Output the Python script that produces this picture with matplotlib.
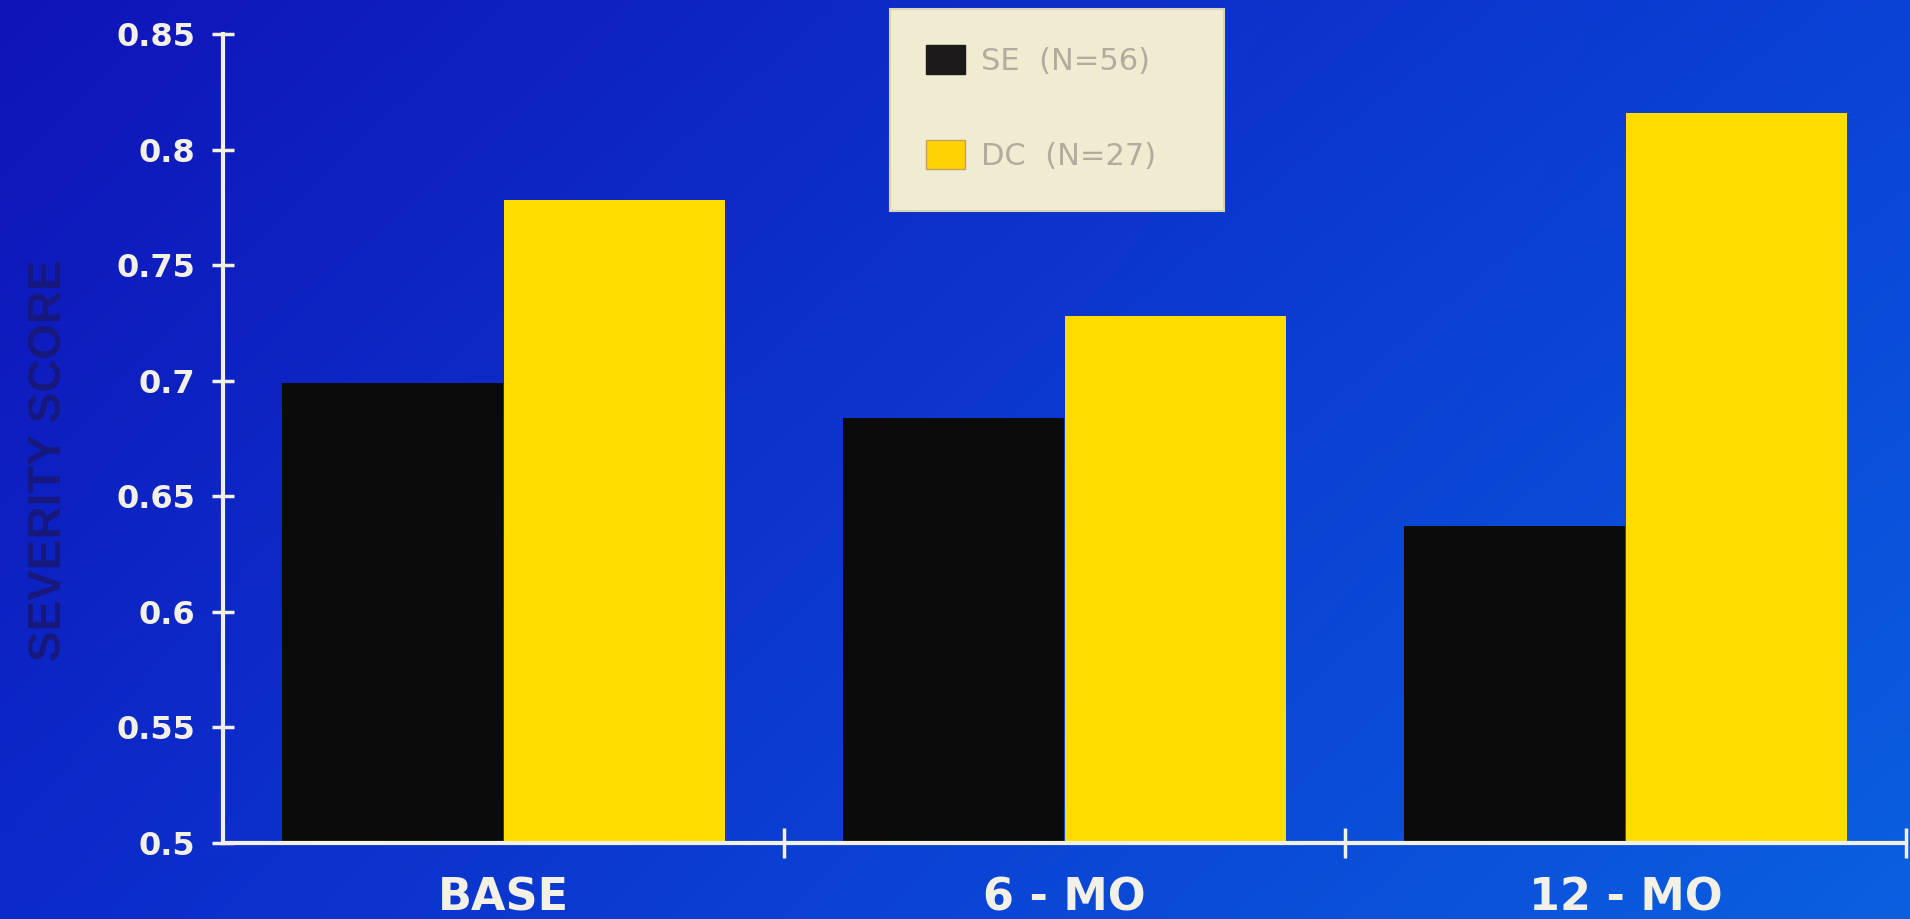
import numpy as np
import matplotlib
matplotlib.use('Agg')
import matplotlib.pyplot as plt
from matplotlib.patches import Rectangle, Patch

# severity scores per visit
visits = ['BASE', '6 - MO', '12 - MO']
se_scores = [0.699, 0.684, 0.637]
dc_scores = [0.778, 0.728, 0.816]
se_label = 'SE  (N=56)'
dc_label = 'DC  (N=27)'
yticks = [0.5, 0.55, 0.6, 0.65, 0.7, 0.75, 0.8, 0.85]
ytick_labels = ['0.5', '0.55', '0.6', '0.65', '0.7', '0.75', '0.8', '0.85']

W, H = 1910, 919
fig = plt.figure(figsize=(W / 100, H / 100), dpi=100)

# blue slide background, a little darker at the top left
bg = fig.add_axes([0, 0, 1, 1], zorder=-10)
tl = np.array([16, 20, 184]) / 255
tr = np.array([10, 66, 214]) / 255
bl = np.array([12, 42, 202]) / 255
br = np.array([10, 96, 224]) / 255
u = np.linspace(0, 1, 200)[None, :, None]
v = np.linspace(0, 1, 100)[:, None, None]
grad = (1 - v) * ((1 - u) * tl + u * tr) + v * ((1 - u) * bl + u * br)
bg.imshow(grad, aspect='auto', extent=[0, 1, 0, 1], interpolation='bilinear')
bg.set_axis_off()

fg = '#f3f0e6'
ax = fig.add_axes([223 / W, 76 / H, 1683 / W, 809 / H])
ax.patch.set_alpha(0)

x = np.arange(len(visits))
w = 0.395
ax.bar(x - 0.198, np.array(se_scores) - 0.5, w, bottom=0.5, color='#0b0b0c', zorder=2)
ax.bar(x + 0.198, np.array(dc_scores) - 0.5, w, bottom=0.5, color='#ffdc00', zorder=2)

ax.set_xlim(-0.5, 2.5)
ax.set_ylim(0.5, 0.85)
for s in ['top', 'right']:
    ax.spines[s].set_visible(False)
for s in ['left', 'bottom']:
    ax.spines[s].set_color(fg)
    ax.spines[s].set_linewidth(3)

ax.set_yticks(yticks)
ax.set_yticklabels(ytick_labels)
ax.tick_params(axis='y', direction='inout', length=16, width=2.5, color=fg,
               labelcolor=fg, labelsize=23, pad=12)
for t in ax.get_yticklabels():
    t.set_fontweight('bold')

ax.set_xticks(x)
ax.set_xticklabels(visits)
ax.set_xticks([0.5, 1.5, 2.5], minor=True)
ax.tick_params(axis='x', which='major', length=0, labelcolor=fg, labelsize=32, pad=24)
ax.tick_params(axis='x', which='minor', direction='inout', length=22, width=2.5, color=fg)
for t in ax.get_xticklabels():
    t.set_fontweight('bold')

fig.text(49 / W, 1 - 460 / H, 'SEVERITY SCORE', rotation=90, ha='center', va='center',
         fontsize=33, color='#18187e', family='Liberation Sans', fontweight='bold')

# legend card
fig.patches.append(Rectangle((890 / W, 1 - 211 / H), 334 / W, 202 / H,
                             transform=fig.transFigure, facecolor='#efecd2',
                             edgecolor='#d8d4b8', linewidth=1.5, zorder=5))
handles = [Patch(facecolor='#1c1a1a', edgecolor='#1c1a1a'),
           Patch(facecolor='#ffd200', edgecolor='#c9a060')]
leg = fig.legend(handles, [se_label, dc_label], loc='upper left',
                 bbox_to_anchor=(895 / W, 1 - 14 / H), frameon=False,
                 fontsize=22, handlelength=1.3, handleheight=1.1,
                 handletextpad=0.5, labelspacing=2.1, borderpad=0.5)
leg.set_zorder(6)
for t in leg.get_texts():
    t.set_color('#b0ad9f')

fig.savefig('out.png', dpi=100)
